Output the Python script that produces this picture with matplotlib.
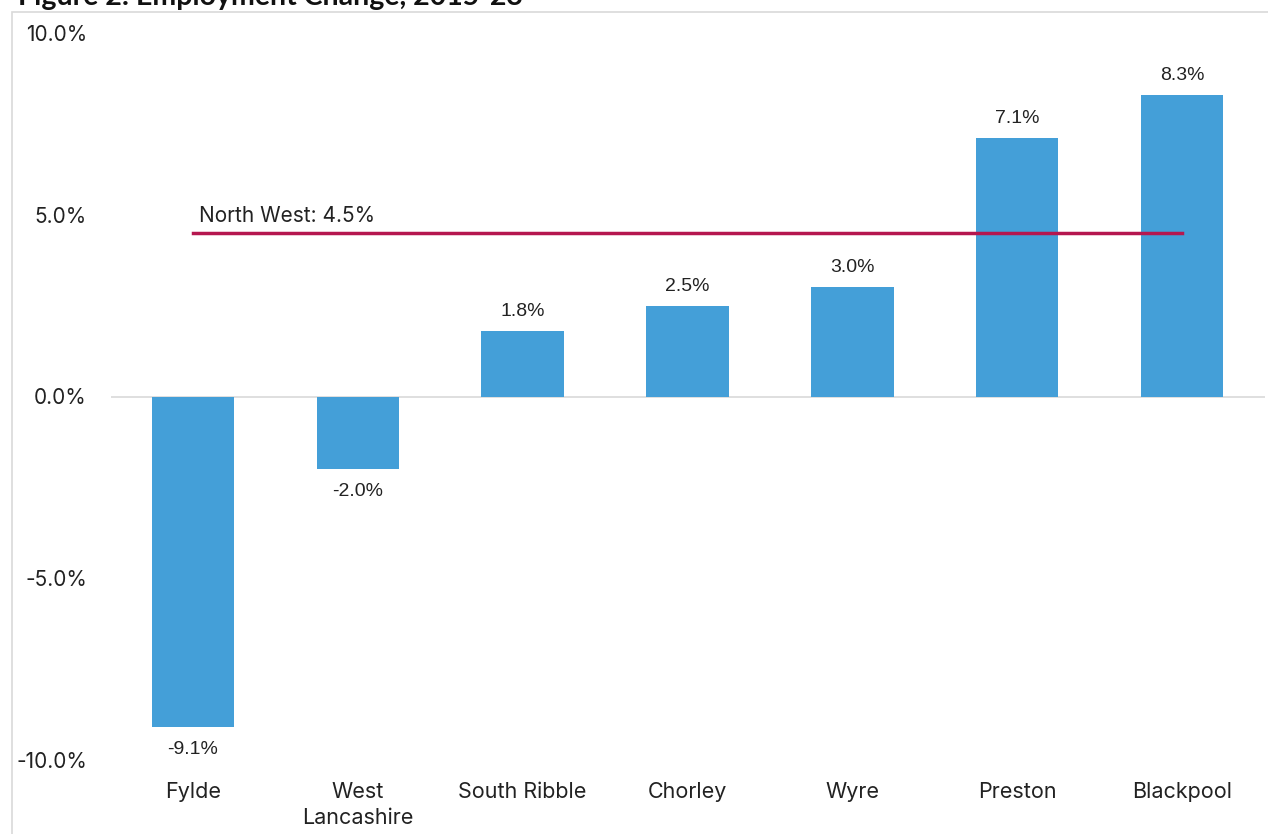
import matplotlib
matplotlib.use("Agg")
import matplotlib.pyplot as plt
from matplotlib.patches import Rectangle

categories = ["Fylde", "West\nLancashire", "South Ribble", "Chorley", "Wyre", "Preston", "Blackpool"]
values = [-9.1, -2.0, 1.8, 2.5, 3.0, 7.1, 8.3]
north_west = 4.5
yticks = [-10, -5, 0, 5, 10]
title = "Figure 2: Employment Change, 2015-23"

W, H = 1268, 834
fig = plt.figure(figsize=(W / 100, H / 100), dpi=100)
fig.patch.set_facecolor("white")

# light frame
fig.add_artist(Rectangle((12 / W, -0.1), 1.2, 1 - 12 / H + 0.1, transform=fig.transFigure,
                         fill=False, edgecolor="#d9d9d9", linewidth=1.2))

ax = fig.add_axes([110.5 / W, 1 - 760 / H, (1264.5 - 110.5) / W, (760 - 33) / H])
x = list(range(len(categories)))
ax.bar(x, values, width=0.5, color="#449FD8", zorder=2)
ax.axhline(0, color="#d9d9d9", linewidth=1.2, zorder=1)
ax.plot([x[0], x[-1]], [north_west, north_west], color="#B5174F", linewidth=2.5, zorder=3)
ax.text(x[0] + 0.035, north_west + 0.2, f"North West: {north_west}%", fontsize=15,
        family="Inter", color="#222222", va="bottom", ha="left")

for xi, v in zip(x, values):
    if v >= 0:
        ax.annotate(f"{v:.1f}%", (xi, v), xytext=(0, 8), textcoords="offset points",
                    ha="center", va="bottom", fontsize=14, family="Liberation Sans", color="#222222")
    else:
        ax.annotate(f"{v:.1f}%", (xi, v), xytext=(0, -10), textcoords="offset points",
                    ha="center", va="top", fontsize=14, family="Liberation Sans", color="#222222")

ax.set_xlim(-0.5, len(categories) - 0.5)
ax.set_ylim(-10, 10)
ax.set_yticks(yticks)
ax.set_yticklabels([f"{t:.1f}%" for t in yticks], fontsize=15, family="Inter", color="#222222")
ax.set_xticks(x)
ax.set_xticklabels(categories, fontsize=15.5, family="Inter", color="#222222", linespacing=1.35)
ax.tick_params(axis="both", length=0)
ax.tick_params(axis="y", pad=17)
ax.tick_params(axis="x", pad=16)
for s in ax.spines.values():
    s.set_visible(False)

fig.text(18 / W, 1 - 5 / H, title, fontsize=20.5, fontweight="bold", family="Lato",
         color="#111111", va="baseline", ha="left")

fig.savefig("out.png", dpi=100, facecolor="white")
